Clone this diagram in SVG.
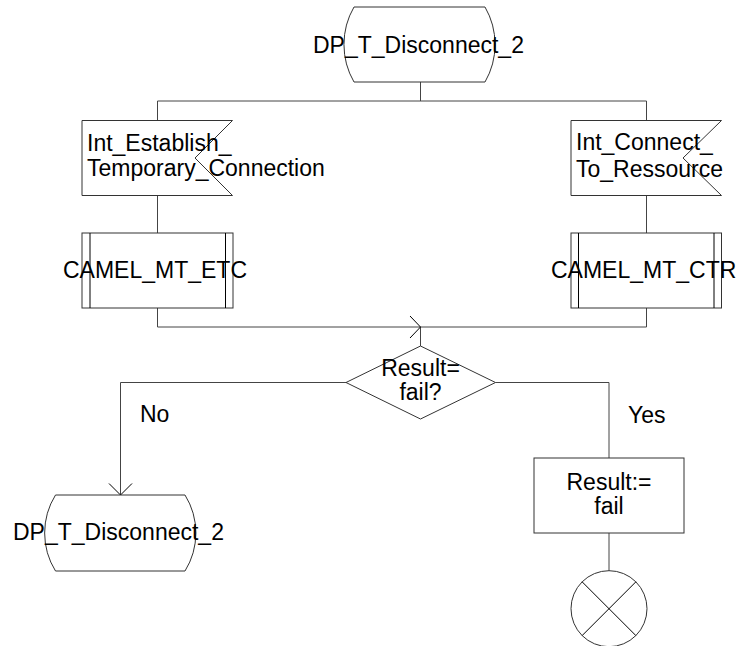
<svg xmlns="http://www.w3.org/2000/svg" width="745" height="646" viewBox="0 0 745 646">
<style>
.s{fill:#fff;stroke:#333;stroke-width:1}
.k{fill:none;stroke:#000;stroke-width:1}
.c{fill:none;stroke:#444;stroke-width:1}
text{font-family:"Liberation Sans",Arial,sans-serif;font-size:23px;fill:#000}
</style>
<rect width="745" height="646" fill="#fff"/>
<g id="connectors">
<path class="c" d="M420.5,82 V101 M157.5,101 H646.5 M157.5,101 V121 M646.5,101 V120"/>
<path class="c" d="M157.5,195 V233 M646.5,195 V233"/>
<path class="c" d="M157.5,308 V327 H646.5 V308 M420.5,327 V346"/>
<path class="k" d="M410,316 L420.5,327 L410,338"/>
<path class="c" d="M346,382.5 H120.5 V495"/>
<path class="k" d="M109,483.5 L120.5,495 L132,483.5"/>
<path class="c" d="M495.5,382.5 H609 V458"/>
<path class="c" d="M609,533 V571"/>
</g>
<g id="start">
<path class="s" d="M354,7 H485 A75,75 0 0 1 485,82 H354 A75,75 0 0 1 354,7 Z"/>
<text x="313" y="53">DP_T_Disconnect_2</text>
</g>
<g id="sig1">
<path class="s" d="M82,120.5 H232.5 L195,158 L232.5,195.5 H82 Z"/>
<text x="87" y="150.5">Int_Establish_</text>
<text x="87" y="176">Temporary_Connection</text>
</g>
<g id="sig2">
<path class="s" d="M571,120.5 H721.5 L683,158 L721.5,195.5 H571 Z"/>
<text x="576" y="149.5">Int_Connect_</text>
<text x="576" y="176.5">To_Ressource</text>
</g>
<g id="proc1">
<rect class="s" x="82" y="233" width="151" height="75"/>
<path class="k" d="M90,233 V308 M225.5,233 V308"/>
<text x="63" y="277.5">CAMEL_MT_ETC</text>
</g>
<g id="proc2">
<rect class="s" x="571" y="233" width="150.5" height="75"/>
<path class="k" d="M578.5,233 V308 M714,233 V308"/>
<text x="551" y="277.5">CAMEL_MT_CTR</text>
</g>
<g id="decision">
<path class="s" d="M420.5,346 L495.5,382.5 L420.5,419 L346,382.5 Z"/>
<text x="420.5" y="376" text-anchor="middle">Result=</text>
<text x="420.5" y="400" text-anchor="middle">fail?</text>
</g>
<text x="140" y="422">No</text>
<text x="628" y="422.5">Yes</text>
<g id="end">
<path class="s" d="M55.5,495 H185 A72,72 0 0 1 185,571 H55.5 A72,72 0 0 1 55.5,495 Z"/>
<text x="13" y="540">DP_T_Disconnect_2</text>
</g>
<g id="task">
<rect class="s" x="534" y="458" width="150" height="75"/>
<text x="609" y="490" text-anchor="middle">Result:=</text>
<text x="609" y="514" text-anchor="middle">fail</text>
</g>
<g id="stop">
<circle class="s" cx="609" cy="608.7" r="38"/>
<path class="k" d="M582.1,581.8 L635.9,635.6 M635.9,581.8 L582.1,635.6"/>
</g>
</svg>
